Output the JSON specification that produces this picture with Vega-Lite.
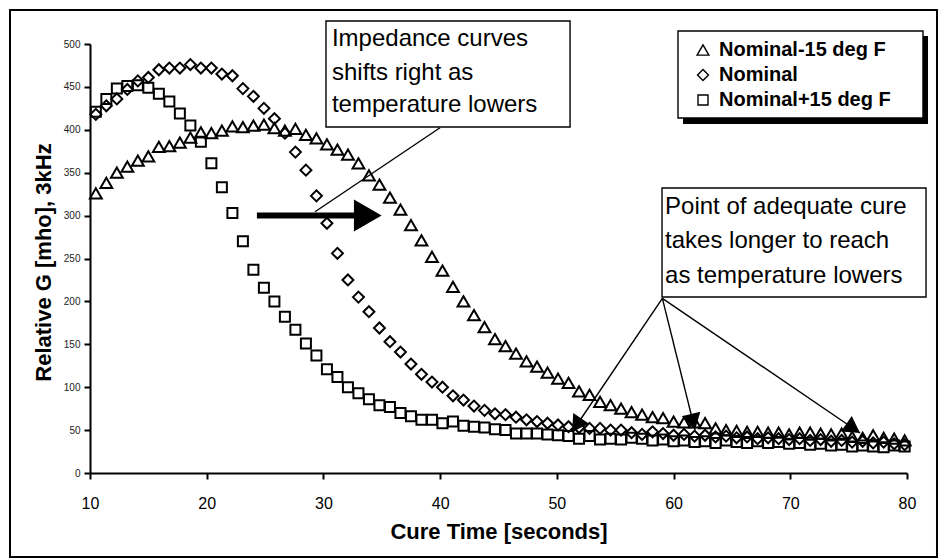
{
  "$schema": "https://vega.github.io/schema/vega-lite/v6.json",
  "width": 817,
  "height": 429,
  "autosize": "none",
  "padding": {"left": 90, "top": 44, "right": 33, "bottom": 87},
  "background": "white",
  "config": {"view": {"stroke": null}, "font": "Liberation Sans"},
  "datasets": {
    "curves": [
      {"t": 10.5, "Nominal-15 deg F": 326, "Nominal": 418, "Nominal+15 deg F": 421},
      {"t": 11.4, "Nominal-15 deg F": 338, "Nominal": 428, "Nominal+15 deg F": 436},
      {"t": 12.3, "Nominal-15 deg F": 350, "Nominal": 436, "Nominal+15 deg F": 448},
      {"t": 13.2, "Nominal-15 deg F": 357, "Nominal": 447, "Nominal+15 deg F": 451},
      {"t": 14.1, "Nominal-15 deg F": 364, "Nominal": 457, "Nominal+15 deg F": 452},
      {"t": 15.0, "Nominal-15 deg F": 369, "Nominal": 461, "Nominal+15 deg F": 449},
      {"t": 15.9, "Nominal-15 deg F": 380, "Nominal": 470, "Nominal+15 deg F": 442},
      {"t": 16.8, "Nominal-15 deg F": 381, "Nominal": 472, "Nominal+15 deg F": 433},
      {"t": 17.7, "Nominal-15 deg F": 385, "Nominal": 472, "Nominal+15 deg F": 419},
      {"t": 18.6, "Nominal-15 deg F": 391, "Nominal": 476, "Nominal+15 deg F": 405},
      {"t": 19.5, "Nominal-15 deg F": 397, "Nominal": 472, "Nominal+15 deg F": 386},
      {"t": 20.4, "Nominal-15 deg F": 396, "Nominal": 472, "Nominal+15 deg F": 361},
      {"t": 21.3, "Nominal-15 deg F": 399, "Nominal": 465, "Nominal+15 deg F": 333},
      {"t": 22.2, "Nominal-15 deg F": 404, "Nominal": 463, "Nominal+15 deg F": 303},
      {"t": 23.1, "Nominal-15 deg F": 403, "Nominal": 448, "Nominal+15 deg F": 270},
      {"t": 24.0, "Nominal-15 deg F": 405, "Nominal": 439, "Nominal+15 deg F": 237},
      {"t": 24.9, "Nominal-15 deg F": 406, "Nominal": 425, "Nominal+15 deg F": 216},
      {"t": 25.8, "Nominal-15 deg F": 402, "Nominal": 413, "Nominal+15 deg F": 200},
      {"t": 26.7, "Nominal-15 deg F": 399, "Nominal": 396, "Nominal+15 deg F": 182},
      {"t": 27.6, "Nominal-15 deg F": 401, "Nominal": 374, "Nominal+15 deg F": 167},
      {"t": 28.5, "Nominal-15 deg F": 394, "Nominal": 353, "Nominal+15 deg F": 151},
      {"t": 29.4, "Nominal-15 deg F": 390, "Nominal": 323, "Nominal+15 deg F": 137},
      {"t": 30.3, "Nominal-15 deg F": 383, "Nominal": 291, "Nominal+15 deg F": 121},
      {"t": 31.2, "Nominal-15 deg F": 377, "Nominal": 256, "Nominal+15 deg F": 112},
      {"t": 32.1, "Nominal-15 deg F": 371, "Nominal": 225, "Nominal+15 deg F": 100},
      {"t": 33.0, "Nominal-15 deg F": 361, "Nominal": 205, "Nominal+15 deg F": 93},
      {"t": 33.9, "Nominal-15 deg F": 347, "Nominal": 188, "Nominal+15 deg F": 86},
      {"t": 34.8, "Nominal-15 deg F": 336, "Nominal": 169, "Nominal+15 deg F": 79},
      {"t": 35.7, "Nominal-15 deg F": 321, "Nominal": 153, "Nominal+15 deg F": 77},
      {"t": 36.6, "Nominal-15 deg F": 307, "Nominal": 141, "Nominal+15 deg F": 70},
      {"t": 37.5, "Nominal-15 deg F": 289, "Nominal": 127, "Nominal+15 deg F": 66},
      {"t": 38.4, "Nominal-15 deg F": 271, "Nominal": 115, "Nominal+15 deg F": 62},
      {"t": 39.3, "Nominal-15 deg F": 252, "Nominal": 106, "Nominal+15 deg F": 62},
      {"t": 40.2, "Nominal-15 deg F": 236, "Nominal": 100, "Nominal+15 deg F": 58},
      {"t": 41.1, "Nominal-15 deg F": 217, "Nominal": 90, "Nominal+15 deg F": 60},
      {"t": 42.0, "Nominal-15 deg F": 200, "Nominal": 85, "Nominal+15 deg F": 55},
      {"t": 42.9, "Nominal-15 deg F": 184, "Nominal": 78, "Nominal+15 deg F": 54},
      {"t": 43.8, "Nominal-15 deg F": 170, "Nominal": 73, "Nominal+15 deg F": 53},
      {"t": 44.7, "Nominal-15 deg F": 156, "Nominal": 69, "Nominal+15 deg F": 51},
      {"t": 45.6, "Nominal-15 deg F": 148, "Nominal": 68, "Nominal+15 deg F": 50},
      {"t": 46.5, "Nominal-15 deg F": 139, "Nominal": 65, "Nominal+15 deg F": 46},
      {"t": 47.4, "Nominal-15 deg F": 130, "Nominal": 62, "Nominal+15 deg F": 46},
      {"t": 48.3, "Nominal-15 deg F": 124, "Nominal": 60, "Nominal+15 deg F": 46},
      {"t": 49.2, "Nominal-15 deg F": 117, "Nominal": 58, "Nominal+15 deg F": 45},
      {"t": 50.1, "Nominal-15 deg F": 110, "Nominal": 56, "Nominal+15 deg F": 44},
      {"t": 51.0, "Nominal-15 deg F": 105, "Nominal": 54, "Nominal+15 deg F": 43},
      {"t": 51.9, "Nominal-15 deg F": 95, "Nominal": 53, "Nominal+15 deg F": 40},
      {"t": 52.8, "Nominal-15 deg F": 91, "Nominal": 52, "Nominal+15 deg F": 43},
      {"t": 53.7, "Nominal-15 deg F": 83, "Nominal": 52, "Nominal+15 deg F": 39},
      {"t": 54.6, "Nominal-15 deg F": 79, "Nominal": 50, "Nominal+15 deg F": 40},
      {"t": 55.5, "Nominal-15 deg F": 75, "Nominal": 50, "Nominal+15 deg F": 39},
      {"t": 56.4, "Nominal-15 deg F": 71, "Nominal": 47, "Nominal+15 deg F": 41},
      {"t": 57.3, "Nominal-15 deg F": 68, "Nominal": 45, "Nominal+15 deg F": 40},
      {"t": 58.2, "Nominal-15 deg F": 65, "Nominal": 48, "Nominal+15 deg F": 38},
      {"t": 59.1, "Nominal-15 deg F": 64, "Nominal": 46, "Nominal+15 deg F": 39},
      {"t": 60.0, "Nominal-15 deg F": 60, "Nominal": 44, "Nominal+15 deg F": 37},
      {"t": 60.9, "Nominal-15 deg F": 59, "Nominal": 45, "Nominal+15 deg F": 38},
      {"t": 61.8, "Nominal-15 deg F": 59, "Nominal": 43, "Nominal+15 deg F": 36},
      {"t": 62.7, "Nominal-15 deg F": 58, "Nominal": 44, "Nominal+15 deg F": 37},
      {"t": 63.6, "Nominal-15 deg F": 52, "Nominal": 42, "Nominal+15 deg F": 35},
      {"t": 64.5, "Nominal-15 deg F": 50, "Nominal": 43, "Nominal+15 deg F": 38},
      {"t": 65.4, "Nominal-15 deg F": 49, "Nominal": 41, "Nominal+15 deg F": 36},
      {"t": 66.3, "Nominal-15 deg F": 48, "Nominal": 42, "Nominal+15 deg F": 35},
      {"t": 67.2, "Nominal-15 deg F": 48, "Nominal": 40, "Nominal+15 deg F": 37},
      {"t": 68.1, "Nominal-15 deg F": 47, "Nominal": 41, "Nominal+15 deg F": 35},
      {"t": 69.0, "Nominal-15 deg F": 47, "Nominal": 40, "Nominal+15 deg F": 36},
      {"t": 69.9, "Nominal-15 deg F": 45, "Nominal": 39, "Nominal+15 deg F": 34},
      {"t": 70.8, "Nominal-15 deg F": 47, "Nominal": 40, "Nominal+15 deg F": 35},
      {"t": 71.7, "Nominal-15 deg F": 47, "Nominal": 38, "Nominal+15 deg F": 33},
      {"t": 72.6, "Nominal-15 deg F": 46, "Nominal": 39, "Nominal+15 deg F": 34},
      {"t": 73.5, "Nominal-15 deg F": 45, "Nominal": 37, "Nominal+15 deg F": 32},
      {"t": 74.4, "Nominal-15 deg F": 46, "Nominal": 38, "Nominal+15 deg F": 33},
      {"t": 75.3, "Nominal-15 deg F": 42, "Nominal": 36, "Nominal+15 deg F": 31},
      {"t": 76.2, "Nominal-15 deg F": 41, "Nominal": 37, "Nominal+15 deg F": 32},
      {"t": 77.1, "Nominal-15 deg F": 44, "Nominal": 35, "Nominal+15 deg F": 31},
      {"t": 78.0, "Nominal-15 deg F": 41, "Nominal": 36, "Nominal+15 deg F": 30},
      {"t": 78.9, "Nominal-15 deg F": 40, "Nominal": 34, "Nominal+15 deg F": 32},
      {"t": 79.8, "Nominal-15 deg F": 38, "Nominal": 33, "Nominal+15 deg F": 31}
    ]
  },
  "layer": [
    {
      "data": {"values": [{"t": 3.145, "t2": 82.57, "G": 539.6, "G2": -97.9}]},
      "mark": {"type": "rect", "filled": false, "color": "black", "strokeWidth": 2},
      "encoding": {
        "x": {"field": "t", "type": "quantitative"},
        "x2": {"field": "t2"},
        "y": {"field": "G", "type": "quantitative"},
        "y2": {"field": "G2"}
      }
    },
    {
      "data": {"values": [{"t": 60.81, "t2": 81.8, "G": 509.3, "G2": 406.8}]},
      "mark": {"type": "rect", "fill": "black"},
      "encoding": {
        "x": {"field": "t", "type": "quantitative"},
        "x2": {"field": "t2"},
        "y": {"field": "G", "type": "quantitative"},
        "y2": {"field": "G2"}
      }
    },
    {
      "data": {"values": [
        {"t": 60.38, "t2": 81.37, "G": 515.2, "G2": 413.8},
        {"t": 30.22, "t2": 51.13, "G": 526.8, "G2": 403.3},
        {"t": 59.01, "t2": 81.63, "G": 332.2, "G2": 205.1}
      ]},
      "mark": {"type": "rect", "fill": "white", "stroke": "black", "strokeWidth": 1.4},
      "encoding": {
        "x": {"field": "t", "type": "quantitative"},
        "x2": {"field": "t2"},
        "y": {"field": "G", "type": "quantitative"},
        "y2": {"field": "G2"}
      }
    },
    {
      "data": {"name": "curves"},
      "transform": [{"fold": ["Nominal-15 deg F", "Nominal", "Nominal+15 deg F"], "as": ["series", "G"]}],
      "mark": {"type": "point", "filled": false, "color": "black", "strokeWidth": 2, "opacity": 1},
      "encoding": {
        "x": {
          "field": "t", "type": "quantitative",
          "scale": {"domain": [10, 80], "nice": false, "zero": false},
          "axis": {
            "values": [10, 20, 30, 40, 50, 60, 70, 80],
            "title": "Cure Time [seconds]",
            "grid": false,
            "domainColor": "black", "domainWidth": 2,
            "tickColor": "black", "tickWidth": 2, "tickSize": 6,
            "labelFontSize": 16, "labelColor": "black", "labelPadding": 16, "labelFlush": false,
            "titleFontSize": 22, "titleFontWeight": "bold", "titleColor": "black",
            "titleY": 65, "titleBaseline": "alphabetic"
          }
        },
        "y": {
          "field": "G", "type": "quantitative",
          "scale": {"domain": [0, 500], "nice": false, "zero": false},
          "axis": {
            "values": [0, 50, 100, 150, 200, 250, 300, 350, 400, 450, 500],
            "title": "Relative G [mho], 3kHz",
            "grid": false,
            "domainColor": "black", "domainWidth": 2,
            "tickColor": "black", "tickWidth": 2, "tickSize": 6,
            "labelFontSize": 10, "labelColor": "#222", "labelPadding": 4,
            "titleFontSize": 22, "titleFontWeight": "bold", "titleColor": "black",
            "titleX": -40, "titleY": 218, "titleAngle": -90, "titleAlign": "center", "titleBaseline": "alphabetic"
          }
        },
        "shape": {
          "field": "series", "type": "nominal",
          "scale": {"domain": ["Nominal-15 deg F", "Nominal", "Nominal+15 deg F"], "range": ["triangle-up", "diamond", "square"]},
          "legend": {
            "orient": "none", "legendX": 603, "legendY": -4, "title": null, "padding": 0,
            "rowPadding": 5, "labelFontSize": 20, "labelFontWeight": "bold", "labelColor": "black",
            "labelOffset": 6, "labelLimit": 400,
            "symbolStrokeWidth": 1.4, "symbolStrokeColor": "black", "symbolFillColor": "transparent"
          }
        },
        "size": {
          "field": "series", "type": "nominal",
          "scale": {"domain": ["Nominal-15 deg F", "Nominal", "Nominal+15 deg F"], "range": [140, 100, 100]}
        }
      }
    },
    {
      "data": {"values": [
        {"t": 39.99, "G": 402.4, "t2": 29.28, "G2": 304.5},
        {"t": 59.04, "G": 203.6, "t2": 51.3, "G2": 47.8},
        {"t": 59.04, "G": 203.6, "t2": 61.84, "G2": 50.1},
        {"t": 59.04, "G": 203.6, "t2": 75.98, "G2": 46.6}
      ]},
      "mark": {"type": "rule", "color": "black", "strokeWidth": 1.4},
      "encoding": {
        "x": {"field": "t", "type": "quantitative"},
        "y": {"field": "G", "type": "quantitative"},
        "x2": {"field": "t2"},
        "y2": {"field": "G2"}
      }
    },
    {
      "data": {"values": [{"t": 24.3, "G": 300, "t2": 33.2}]},
      "mark": {"type": "rule", "color": "black", "strokeWidth": 6},
      "encoding": {
        "x": {"field": "t", "type": "quantitative"},
        "y": {"field": "G", "type": "quantitative"},
        "x2": {"field": "t2"}
      }
    },
    {
      "data": {"values": [{"t": 33.8, "G": 300}]},
      "mark": {"type": "point", "shape": "triangle-right", "size": 1024, "filled": true, "color": "black", "opacity": 1},
      "encoding": {
        "x": {"field": "t", "type": "quantitative"},
        "y": {"field": "G", "type": "quantitative"}
      }
    },
    {
      "data": {"values": [{"t": 51.69, "G": 55.7}]},
      "mark": {"type": "point", "shape": "triangle-up", "size": 361, "filled": true, "color": "black", "opacity": 1, "angle": 213.9},
      "encoding": {
        "x": {"field": "t", "type": "quantitative"},
        "y": {"field": "G", "type": "quantitative"}
      }
    },
    {
      "data": {"values": [{"t": 61.67, "G": 59.4}]},
      "mark": {"type": "point", "shape": "triangle-up", "size": 361, "filled": true, "color": "black", "opacity": 1, "angle": 166},
      "encoding": {
        "x": {"field": "t", "type": "quantitative"},
        "y": {"field": "G", "type": "quantitative"}
      }
    },
    {
      "data": {"values": [{"t": 75.39, "G": 52.0}]},
      "mark": {"type": "point", "shape": "triangle-up", "size": 361, "filled": true, "color": "black", "opacity": 1, "angle": 124.3},
      "encoding": {
        "x": {"field": "t", "type": "quantitative"},
        "y": {"field": "G", "type": "quantitative"}
      }
    },
    {
      "data": {"values": [
        {"t": 30.73, "G": 497.7, "txt": "Impedance curves"},
        {"t": 30.73, "G": 458.6, "txt": "shifts right as"},
        {"t": 30.73, "G": 420.7, "txt": "temperature lowers"},
        {"t": 59.27, "G": 302.4, "txt": "Point of adequate cure"},
        {"t": 59.27, "G": 262.2, "txt": "takes longer to reach"},
        {"t": 59.27, "G": 222.0, "txt": "as temperature lowers"}
      ]},
      "mark": {"type": "text", "align": "left", "baseline": "alphabetic", "fontSize": 24, "color": "black"},
      "encoding": {
        "x": {"field": "t", "type": "quantitative"},
        "y": {"field": "G", "type": "quantitative"},
        "text": {"field": "txt", "type": "nominal"}
      }
    }
  ]
}
